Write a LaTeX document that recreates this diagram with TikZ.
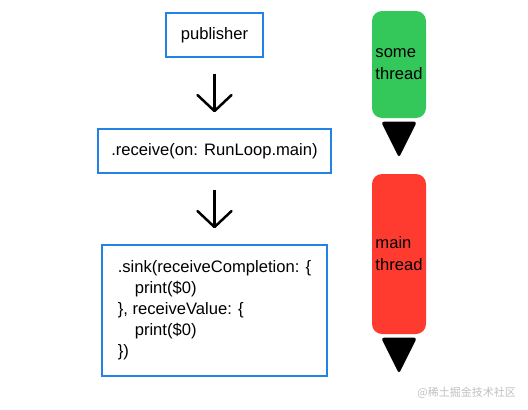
\documentclass[tikz,border=0pt]{standalone}
\usepackage{fontspec}
\setmainfont{Liberation Sans}
\newfontfamily\cjkfont{Noto Sans CJK SC}
\usetikzlibrary{arrows.meta,calc}
\definecolor{boxblue}{RGB}{36,129,230}
\definecolor{thrgreen}{RGB}{52,199,89}
\definecolor{thrred}{RGB}{255,59,48}

\begin{document}
\begin{tikzpicture}[x=1pt,y=-1pt,
  stage/.style={draw=boxblue,line width=1.4pt,minimum height=44pt,inner sep=0pt,
    font=\fontsize{16.6}{21}\selectfont},
  flow/.style={line width=2.5pt,-{Straight Barb[length=16pt,width=34pt,round]},
    shorten <=16pt,shorten >=16pt},
  bar/.style={rounded corners=10pt,minimum width=54pt,inner sep=0pt,align=left,
    font=\fontsize{16.6}{22}\selectfont}]
 \useasboundingbox (0,0) rectangle (528,410);
 % pipeline
 \node[stage,minimum width=97pt] (pub) at (214.5,35) {publisher};
 \node[stage,minimum width=233pt] (recv) at (214.5,151) {.receive(on: RunLoop.main)};
 \node[stage,minimum width=225pt,minimum height=131pt,align=left] (sink) at (214.5,310.5)
   {.sink(receiveCompletion: \{\\\hspace*{17pt}print(\$0)\\\}, receiveValue: \{\\\hspace*{17pt}print(\$0)\\\})};
 \draw[flow] (pub) -- (recv);
 \draw[flow] (recv) -- (sink);
 % threads
 \node[bar,fill=thrgreen,minimum height=107pt] (some) at (399,64.5) {some\\thread};
 \node[bar,fill=thrred,minimum height=160pt] (main) at (399,254) {main\\thread};
 \foreach \t in {some,main}
  \fill[rounded corners=3pt] ($(\t.south)+(-18,3.5)$) -- ($(\t.south)+(18,3.5)$)
    -- ($(\t.south)+(0,39.5)$) -- cycle;
 \node[text=black!25,font=\cjkfont\fontsize{11}{11}\selectfont,anchor=east,inner sep=0pt]
   (mark) at (516,393) {@稀土掘金技术社区};
\end{tikzpicture}
\end{document}
